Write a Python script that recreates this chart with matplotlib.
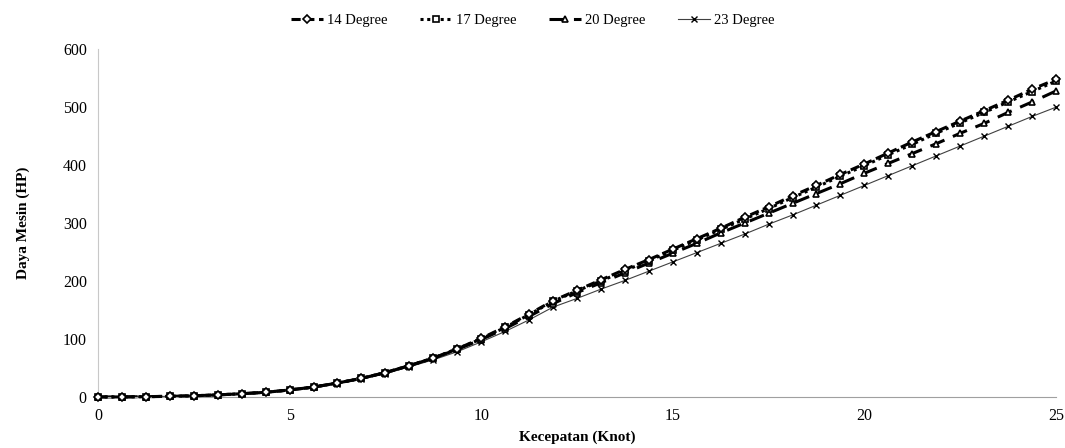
import numpy as np
import matplotlib.pyplot as plt

plt.rcParams["font.family"] = ["Liberation Serif", "DejaVu Serif"]

kecepatan = np.arange(41) * 0.625

deg14 = [0, 0, 0.5, 1, 2, 3.5, 5.5, 8, 12, 17, 24, 32, 42, 54, 67, 83, 101, 121, 143, 166,
         184, 202, 220, 237, 255, 273, 291, 310, 328, 347, 365, 384, 402, 421, 440, 458,
         476, 494, 512, 531, 548]
deg17 = [0, 0, 0.5, 1, 2, 3.5, 5.5, 8, 12, 17, 24, 32, 42, 54, 67, 83, 100, 120, 142, 165,
         183, 200, 218, 235, 253, 271, 289, 307, 325, 344, 362, 381, 399, 418, 436, 455,
         473, 491, 509, 527, 545]
deg20 = [0, 0, 0.5, 1, 2, 3.5, 5.5, 8, 12, 17, 24, 32, 42, 54, 67, 82, 99, 118, 139, 161,
         180, 197, 214, 231, 248, 265, 283, 300, 317, 334, 351, 368, 386, 403, 420, 437,
         455, 472, 491, 509, 528]
deg23 = [0, 0, 0.5, 1, 2, 3.5, 5.5, 8, 12, 17, 23, 31, 40, 52, 64, 78, 95, 113, 133, 155,
         170, 186, 201, 217, 233, 249, 265, 281, 298, 314, 331, 348, 365, 382, 399, 416,
         433, 450, 467, 484, 500]

fig = plt.figure(figsize=(10.65, 4.48), dpi=100)
ax = fig.add_axes([0.092, 0.114, 0.8995, 0.776])

ax.plot(kecepatan, deg14, linestyle=(0, (3, 1.5)), linewidth=2.2, color="black",
        marker="D", markersize=4, markerfacecolor="white", markeredgewidth=1.2,
        label="14 Degree", clip_on=False, zorder=4)
ax.plot(kecepatan, deg17, linestyle=(0, (1, 1.2)), linewidth=2.2, color="black",
        marker="s", markersize=4, markerfacecolor="white", markeredgewidth=1.2,
        label="17 Degree", clip_on=False, zorder=3)
ax.plot(kecepatan, deg20, linestyle=(0, (5, 3)), linewidth=2.2, color="black",
        marker="^", markersize=4.5, markerfacecolor="white", markeredgewidth=1.2,
        label="20 Degree", clip_on=False, zorder=2)
ax.plot(kecepatan, deg23, linestyle="-", linewidth=0.8, color="#404040",
        marker="x", markersize=4.5, markeredgecolor="black", markeredgewidth=1.0,
        label="23 Degree", clip_on=False, zorder=1)

ax.set_xlim(0, 25)
ax.set_ylim(0, 600)
ax.set_xticks([0, 5, 10, 15, 20, 25])
ax.set_yticks(range(0, 601, 100))
ax.tick_params(length=0, labelsize=11.5, pad=8)
for s in ["top", "right"]:
    ax.spines[s].set_visible(False)
ax.spines["left"].set_color("#c8c8c8")
ax.spines["bottom"].set_color("#a0a0a0")

ax.set_xlabel("Kecepatan (Knot)", fontsize=11, fontweight="bold", labelpad=5)
ax.set_ylabel("Daya Mesin (HP)", fontsize=11, fontweight="bold", labelpad=24)

fig.legend(loc="upper center", bbox_to_anchor=(0.5, 0.998), ncol=4, frameon=False,
           fontsize=10.5, handlelength=2.2, columnspacing=2.2, handletextpad=0.3)

plt.savefig("out.png", dpi=100)
